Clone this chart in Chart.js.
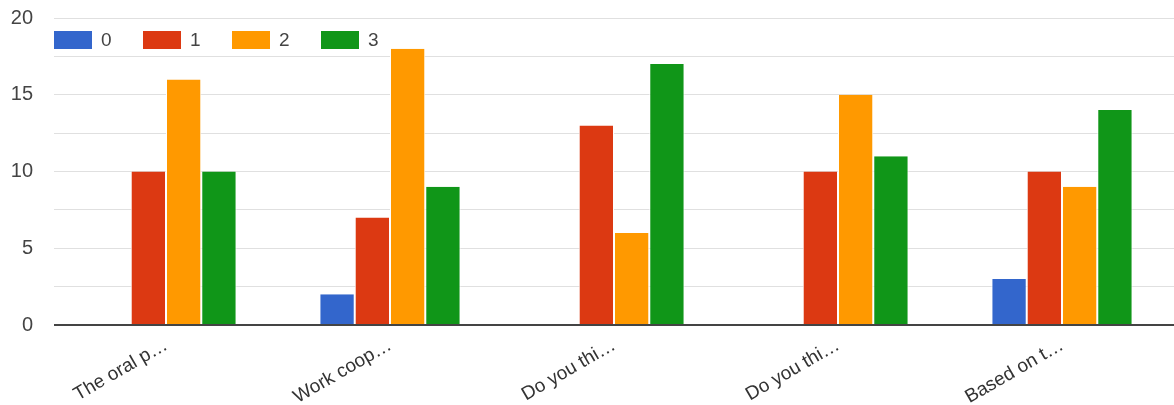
<!DOCTYPE html>
<html>
<head>
<meta charset="utf-8">
<script src="https://cdn.jsdelivr.net/npm/chart.js@4/dist/chart.umd.min.js"></script>
<style>
  html, body { margin: 0; padding: 0; background: #fff; }
  #wrap { position: relative; width: 1174px; height: 405px; }
  #legend { position: absolute; left: 54px; top: 29px; display: flex; font-family: 'Liberation Sans', Arial, sans-serif; font-size: 19px; color: #444; }
  .item { display: flex; align-items: center; width: 89px; }
  .box { width: 38px; height: 18px; margin-right: 9px; }
</style>
</head>
<body>
<div id="wrap">
  <canvas id="chart" width="1174" height="405"></canvas>
  <div id="legend"></div>
</div>
<script>
const categories = ['The oral p…', 'Work coop…', 'Do you thi…', 'Do you thi…', 'Based on t…'];
const seriesNames = ['0', '1', '2', '3'];
const values0 = [0, 2, 0, 0, 3];
const values1 = [10, 7, 13, 10, 10];
const values2 = [16, 18, 6, 15, 9];
const values3 = [10, 9, 17, 11, 14];
const colors = ['#3366cc', '#dc3912', '#ff9900', '#109618'];

const allValues = [values0, values1, values2, values3];
const fontFamily = "'Liberation Sans', Arial, sans-serif";

const datasets = allValues.map((data, i) => ({
    label: seriesNames[i],
    data,
    backgroundColor: colors[i],
    borderColor: '#ffffff',
    borderWidth: { left: 1, right: 1, top: 0, bottom: 0 },
    categoryPercentage: 0.63,
    barPercentage: 1,
}));

const legend = document.getElementById('legend');
seriesNames.forEach((name, i) => {
    const item = document.createElement('div');
    item.className = 'item';
    item.innerHTML = `<span class="box" style="background:${colors[i]}"></span><span>${name}</span>`;
    legend.appendChild(item);
});

new Chart(document.getElementById('chart').getContext('2d'), {
    type: 'bar',
    data: { labels: categories, datasets },
    options: {
        responsive: false,
        animation: false,
        layout: { padding: 0 },
        plugins: { legend: { display: false }, tooltip: { enabled: false } },
        scales: {
            x: {
                grid: { display: false },
                border: { display: false },
                afterFit: axis => { axis.height = 80; },
                ticks: {
                    color: '#333',
                    font: { family: fontFamily, size: 19 },
                    minRotation: 30,
                    maxRotation: 30,
                    padding: 1,
                },
            },
            y: {
                min: 0,
                max: 20,
                border: { display: false },
                afterFit: axis => { axis.width = 54; },
                grid: {
                    color: ctx => ctx.tick && ctx.tick.value === 0 ? '#444444' : '#e0e0e0',
                    lineWidth: ctx => ctx.tick && ctx.tick.value === 0 ? 2 : 1,
                    drawTicks: true,
                    tickLength: 15,
                    tickColor: 'rgba(0,0,0,0)',
                },
                ticks: {
                    stepSize: 2.5,
                    padding: 6,
                    color: '#444',
                    font: { family: fontFamily, size: 20 },
                    callback: v => v % 5 === 0 ? v : '',
                },
            },
        },
    },
});
</script>
</body>
</html>
